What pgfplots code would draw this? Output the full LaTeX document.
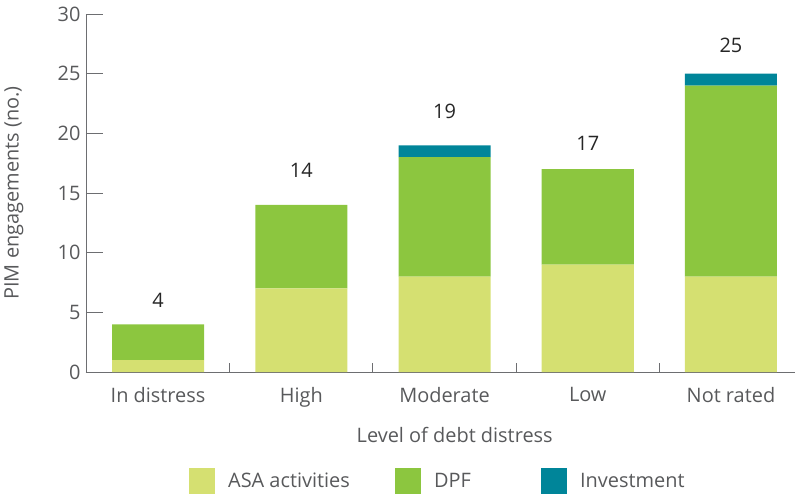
\documentclass[border=0pt]{standalone}
\usepackage{fontspec}
\setmainfont{Open Sans}
\usepackage{pgfplots}
\pgfplotsset{compat=1.18}
\usepackage{pgfplotstable}

\definecolor{asa}{HTML}{D5E071}
\definecolor{dpf}{HTML}{8CC63F}
\definecolor{inv}{HTML}{008599}
\definecolor{txt}{HTML}{58595B}
\definecolor{axisgray}{HTML}{6D6E71}

% PIM engagements by level of debt distress (off = label offset above bar, bp)
\pgfplotstableread{
cat asa dpf inv total off
0   1   3   0   4     24
1   7   7   0   14    35
2   8   10  1   19    34
3   9   8   0   17    26
4   8   16  1   25    28
}\pimdata

\pgfplotsset{
  pimframe/.style={
    at={(0,0)}, anchor=south west,
    scale only axis,
    width=709bp, height=358bp,
    xmin=-0.503, xmax=4.447,
    ymin=0, ymax=30,
    clip=false,
  },
}

\begin{document}
\begin{tikzpicture}
\begin{axis}[
  pimframe,
  ybar stacked,
  bar width=92bp,
  axis lines*=left,
  axis line style={axisgray, line width=0.8pt},
  xtick={0,1,2,3,4},
  xticklabels={In distress,High,Moderate,Low,Not rated},
  minor xtick={0.5,1.5,2.5,3.5},
  ytick={0,5,...,30},
  tick align=inside,
  major tick length=17bp,
  minor tick length=9bp,
  xtick style={draw=none},
  minor x tick style={draw=axisgray, line width=0.8pt},
  ytick style={draw=axisgray, line width=0.8pt},
  /pgf/number format/assume math mode=true,
  tick label style={font=\fontsize{20}{23}\selectfont, text=txt},
  xticklabel style={yshift=-12bp},
  yticklabel style={xshift=-2bp},
  xlabel={Level of debt distress},
  ylabel={PIM engagements (no.)},
  label style={font=\fontsize{20}{23}\selectfont, text=txt},
  xlabel style={at={(axis description cs:0.52,-0.176)}, anchor=center},
  ylabel style={at={(axis description cs:-0.1016,0.5)}, anchor=center},
  legend style={
    at={(axis description cs:0.1410,-0.304)}, anchor=west,
    draw=none, fill=none,
    font=\fontsize{20}{23}\selectfont, text=txt,
    legend columns=-1,
    /tikz/every odd column/.append style={column sep=11bp},
    /tikz/every even column/.append style={column sep=9bp},
  },
  legend image code/.code={\fill[#1] (0bp,-13bp) rectangle (26bp,13bp);},
]
\addplot[fill=asa, draw=none] table[x=cat, y=asa] {\pimdata};
\addlegendentry{\makebox[156bp][l]{ASA activities}}
\addplot[fill=dpf, draw=none] table[x=cat, y=dpf] {\pimdata};
\addlegendentry{\makebox[96bp][l]{DPF}}
\addplot[fill=inv, draw=none] table[x=cat, y=inv] {\pimdata};
\addlegendentry{Investment}
\end{axis}
% bar totals
\begin{axis}[pimframe, hide axis]
\addplot[draw=none, mark=none,
  nodes near coords, point meta=explicit symbolic,
  visualization depends on={\thisrow{off} \as \labeloff},
  every node near coord/.append style={anchor=center, yshift=\labeloff bp,
    font=\fontsize{20}{23}\selectfont, text=black!85}]
  table[x=cat, y=total, meta=total] {\pimdata};
\end{axis}
\pgfresetboundingbox
\path[use as bounding box] (-86bp,-124bp) rectangle (709bp,372bp);
\end{tikzpicture}
\end{document}
